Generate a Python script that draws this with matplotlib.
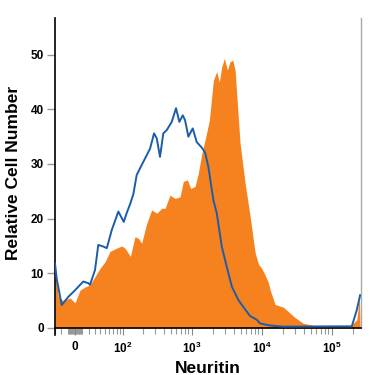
import numpy as np
import matplotlib
matplotlib.use('Agg')
import matplotlib.pyplot as plt

plt.rcParams['font.family'] = ['Liberation Sans', 'DejaVu Sans']
plt.rcParams['mathtext.fontset'] = 'custom'
plt.rcParams['mathtext.rm'] = 'Liberation Sans:bold'
plt.rcParams['mathtext.it'] = 'Liberation Sans:bold'
plt.rcParams['mathtext.bf'] = 'Liberation Sans:bold'

# isotype control (blue line)
ctrl_x = [-30.5, -27.6, -19.5, -9.6, 0, 11.9, 19.5, 22.2, 30.5, 36.4, 46.3, 53.9, 65.8,
          84.6, 103, 114, 130, 144, 161.5, 191, 226, 253, 289, 316, 352, 393, 440,
          519, 598, 667, 747, 805, 898, 1036, 1183, 1395, 1555, 1732, 2043, 2283,
          2694, 3173, 3745, 4653, 6130, 6830, 8521, 9493, 12460, 20210, 100000,
          193800, 228300, 254500]
ctrl_y = [11.8, 9.0, 4.2, 5.7, 6.9, 8.5, 8.2, 7.9, 10.6, 15.2, 14.9, 14.6, 17.9,
          21.3, 19.4, 21.0, 22.8, 24.5, 28.0, 29.8, 31.6, 32.8, 35.6, 34.7, 31.3, 35.6, 36.2,
          37.7, 40.2, 37.7, 38.9, 38.0, 35.0, 36.5, 34.0, 33.0, 32.1, 29.5, 23.4, 21.0,
          14.9, 11.2, 7.6, 5.1, 3.0, 2.2, 1.5, 0.85, 0.5, 0.25, 0.3,
          0.3, 3.3, 6.0]

# anti-Neuritin stained (orange fill)
stain_x = [-30.5, -24.9, -17, -7.1, 0, 7.1, 14.5, 22.2, 30.5, 39.7, 50, 61.3, 79.1,
           95.7, 107.5, 130, 152, 171, 191, 226, 267, 316, 373, 416, 490, 579, 682,
           761, 868, 971, 1118, 1246, 1395, 1555, 1791, 2043, 2283, 2486, 2694, 2933,
           3238, 3536, 3866, 4171, 4914, 5800, 6830, 8052, 8983, 10030, 11180, 12460,
           13190, 15540, 18330, 20430, 24070, 30000, 39400, 61300, 104800, 183300,
           228300, 248600, 254500]
stain_y = [11.5, 5.7, 5.0, 5.5, 4.6, 6.9, 7.5, 7.9, 9.4, 10.9, 12.1, 14.0, 14.6,
           15.0, 14.6, 13.1, 16.7, 16.4, 15.5, 19.1, 21.6, 21.0, 21.9, 21.9, 24.3, 23.7, 24.0,
           26.8, 27.1, 25.5, 25.9, 28.3, 31.9, 34.4, 38.0, 45.3, 46.9, 45.0, 47.8, 49.3,
           47.2, 48.7, 49.0, 47.2, 33.8, 26.5, 20.5, 13.8, 11.7, 10.9, 9.7, 8.3,
           7.0, 4.3, 4.0, 3.8, 3.0, 1.9, 0.85, 0.37, 0.3, 0.3,
           1.5, 5.7, 0.0]

major_ticks = [0, 100, 1000, 10000, 100000]
major_labels = ['0', r'$10^2$', r'$10^3$', r'$10^4$', r'$10^5$']

C = 21.6


def fwd(x):
    return np.arcsinh(np.asarray(x, dtype=float) / (2 * C)) / np.log(10)


def inv(y):
    return 2 * C * np.sinh(np.asarray(y, dtype=float) * np.log(10))


fig = plt.figure(figsize=(3.75, 3.75), dpi=100)
ax = fig.add_axes([55 / 375, 47 / 375, 306 / 375, 310 / 375])
ax.set_xscale('function', functions=(fwd, inv))

ax.fill_between(stain_x, stain_y, 0, color='#F5821F', linewidth=0, zorder=2)
ax.plot(ctrl_x, ctrl_y, color='#1C5DAA', linewidth=1.4, zorder=3)

ax.set_xlim(-30.5, 262144)
ax.set_ylim(0, 56.7)

minor = [-30, -20, -10] + list(range(-9, 0)) + list(range(1, 10)) + list(range(10, 100, 10))
for dec in [100, 1000, 10000]:
    minor += [k * dec for k in range(2, 10)]
minor += [200000]
ax.set_xticks(major_ticks)
ax.set_xticklabels(major_labels)
ax.set_xticks(minor, minor=True)
ax.tick_params(axis='x', which='major', length=5, width=0.8, color='#888888',
               labelsize=8.5, pad=4)
ax.tick_params(axis='x', which='minor', length=4, width=0.8, color='#999999')

ax.set_yticks([0, 10, 20, 30, 40, 50])
ax.tick_params(axis='y', length=6, width=1, color='#999999', labelsize=8.5, pad=2)
for lab in ax.get_yticklabels() + ax.get_xticklabels():
    lab.set_fontweight('bold')

ax.spines['top'].set_visible(False)
ax.spines['right'].set_color('#aaaaaa')
ax.spines['right'].set_linewidth(1)
ax.spines['left'].set_linewidth(1.2)
ax.spines['bottom'].set_linewidth(1.2)
ax.spines['left'].set_bounds(-1.3, 56.7)

ax.set_xlabel('Neuritin', fontsize=12.5, fontweight='bold', labelpad=4)
ax.set_ylabel('Relative Cell Number', fontsize=12.5, fontweight='bold', labelpad=7)

fig.savefig('out.png', dpi=100)
